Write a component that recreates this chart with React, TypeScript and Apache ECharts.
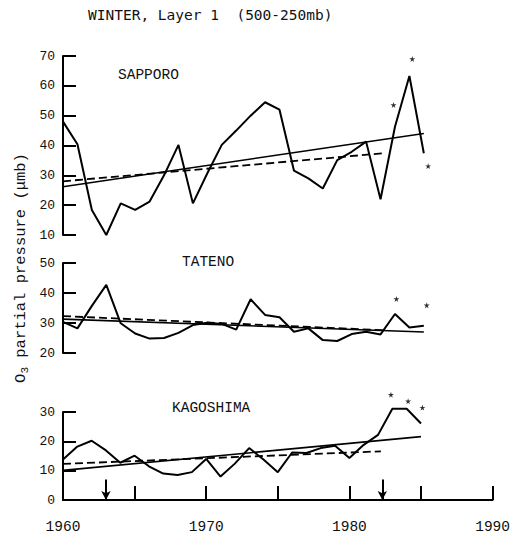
import React, { useEffect, useRef } from "react";
import * as echarts from "echarts";

const years = [1960, 1961, 1962, 1963, 1964, 1965, 1966, 1967, 1968, 1969, 1970, 1971, 1972, 1973, 1974, 1975, 1976, 1977, 1978, 1979, 1980, 1981, 1982, 1983, 1984, 1985];

const sapporo = [48, 40.4, 18.4, 10, 20.6, 18.4, 21.2, 30, 40.2, 20.6, 30.7, 40.2, 45, 50, 54.5, 52, 31.6, 29, 25.6, 35.1, 37.9, 41.3, 22, 46.3, 63.3, 37.4];
const tateno = [30.4, 28.2, 35.7, 42.7, 29.9, 26.5, 24.8, 25, 26.7, 29.3, 30.1, 29.7, 27.8, 37.9, 32.7, 31.9, 27.1, 28.2, 24.3, 24, 26.3, 27.1, 26.2, 33, 28.5, 29.1];
const kagoshima = [13.8, 18.2, 20.2, 16.9, 12.7, 15.1, 11.5, 9.0, 8.5, 9.5, 14.0, 8.0, 12.4, 17.7, 13.8, 9.5, 16.2, 16.0, 17.7, 18.5, 14.3, 18.8, 22.2, 31.1, 31.1, 26.1];

// trend lines
const sapporoSolid = [[1960, 26.2], [1985, 44]];
const sapporoDashed = [[1960, 28], [1982.2, 37.4]];
const tatenoSolid = [[1960, 31.3], [1985, 27.0]];
const tatenoDashed = [[1960, 32.3], [1982.2, 27.6]];
const kagoshimaSolid = [[1960, 10.1], [1985, 21.6]];
const kagoshimaDashed = [[1960, 12.3], [1982.2, 16.6]];

// asterisk markers
const sapporoStars = [[1982.9, 53.6], [1984.2, 69], [1985.3, 33.1]];
const tatenoStars = [[1983.1, 38], [1985.2, 35.9]];
const kagoshimaStars = [[1982.9, 35.9], [1984.1, 33.7], [1985.1, 31.5]];

const arrowYears = [1963, 1982.3];
const arrowTop = 7;

const stations = ["SAPPORO", "TATENO", "KAGOSHIMA"];
const yRanges = [[10, 70], [20, 50], [0, 30]];
const xRange = [1960, 1990];

const STAR = "path://M50,0 L61,35 L98,35 L68,57 L79,91 L50,70 L21,91 L32,57 L2,35 L39,35 Z";
const MONO = "'Liberation Mono', 'DejaVu Sans Mono', monospace";

export default function App() {
  const ref = useRef<HTMLDivElement>(null);
  useEffect(() => {
    if (!ref.current) return;
    const chart = echarts.init(ref.current, null, { renderer: "svg" });
    const series: any[] = [];
    const datasets = [sapporo, tateno, kagoshima];
    const solids = [sapporoSolid, tatenoSolid, kagoshimaSolid];
    const dashes = [sapporoDashed, tatenoDashed, kagoshimaDashed];
    const stars = [sapporoStars, tatenoStars, kagoshimaStars];
    for (let i = 0; i < 3; i++) {
      const s: any = {
        type: "line",
        xAxisIndex: i,
        yAxisIndex: i,
        data: years.map((y, k) => [y, datasets[i][k]]),
        symbol: "none",
        clip: false,
        lineStyle: { color: "#000", width: 2 },
      };
      if (i === 2) {
        s.markLine = {
          silent: true,
          symbol: ["none", "arrow"],
          symbolSize: [7, 9],
          lineStyle: { color: "#000", width: 2, type: "solid" },
          label: { show: false },
          data: arrowYears.map((y) => [{ coord: [y, arrowTop] }, { coord: [y, 0] }]),
        };
      }
      series.push(s);
      series.push({
        type: "line",
        xAxisIndex: i,
        yAxisIndex: i,
        data: solids[i],
        symbol: "none",
        clip: false,
        lineStyle: { color: "#000", width: 1.6 },
      });
      series.push({
        type: "line",
        xAxisIndex: i,
        yAxisIndex: i,
        data: dashes[i],
        symbol: "none",
        clip: false,
        lineStyle: { color: "#000", width: 1.8, type: [8, 4] },
      });
      series.push({
        type: "scatter",
        xAxisIndex: i,
        yAxisIndex: i,
        data: stars[i],
        symbol: STAR,
        symbolSize: 6,
        clip: false,
        itemStyle: { color: "#000" },
      });
    }
    const grids = [
      { left: 63, right: 17, top: 56, height: 179 },
      { left: 63, right: 17, top: 263, height: 90 },
      { left: 63, right: 17, top: 412, height: 89 },
    ];
    const xAxes = [0, 1, 2].map((i) => ({
      type: "value",
      gridIndex: i,
      min: xRange[0],
      max: xRange[1],
      interval: 5,
      show: i === 2,
      splitLine: { show: false },
      axisLine: { show: true, lineStyle: { color: "#000", width: 2 } },
      axisTick: { show: true, inside: true, length: 14, lineStyle: { color: "#000", width: 2 } },
      axisLabel: {
        margin: 19,
        color: "#111",
        fontFamily: MONO,
        fontSize: 14.5,
        formatter: (v: number) => (v % 10 === 0 ? String(v) : ""),
      },
    }));
    const yAxes = [0, 1, 2].map((i) => ({
      type: "value",
      gridIndex: i,
      min: yRanges[i][0],
      max: yRanges[i][1],
      interval: 10,
      splitLine: { show: false },
      axisLine: { show: true, lineStyle: { color: "#000", width: 2 } },
      axisTick: { show: true, inside: true, length: 13, lineStyle: { color: "#000", width: 2 } },
      axisLabel: { margin: 8, color: "#111", fontFamily: MONO, fontSize: 13 },
    }));
    const labelPos = [
      [118, 75],
      [182, 262],
      [172, 408],
    ];
    const graphic: any[] = [
      {
        type: "text",
        left: 88,
        top: 7,
        style: {
          text: "WINTER, Layer 1  (500-250mb)",
          fill: "#111",
          font: "14.5px 'DejaVu Sans Mono', monospace",
        },
      },
      {
        type: "text",
        x: 21,
        y: 268,
        rotation: Math.PI / 2,
        style: {
          text: "{a|O}{b|3}{a| partial pressure (μmb)}",
          align: "center",
          verticalAlign: "middle",
          fill: "#111",
          rich: {
            a: { fontFamily: MONO, fontSize: 15.5, lineHeight: 18, verticalAlign: "middle", fill: "#111" },
            b: { fontFamily: MONO, fontSize: 11, lineHeight: 11, verticalAlign: "bottom", fill: "#111" },
          },
        },
      },
      ...stations.map((name, i) => ({
        type: "text",
        x: labelPos[i][0],
        y: labelPos[i][1],
        style: {
          text: name,
          fill: "#111",
          verticalAlign: "middle",
          font: "14.5px 'Liberation Mono', monospace",
        },
      })),
    ];
    chart.setOption({
      animation: false,
      backgroundColor: "#fff",
      grid: grids,
      xAxis: xAxes,
      yAxis: yAxes,
      series,
      graphic,
    });
    return () => chart.dispose();
  }, []);
  return (
    <div
      ref={ref}
      style={{ position: "fixed", left: 0, top: 0, width: 513, height: 534 }}
    />
  );
}
